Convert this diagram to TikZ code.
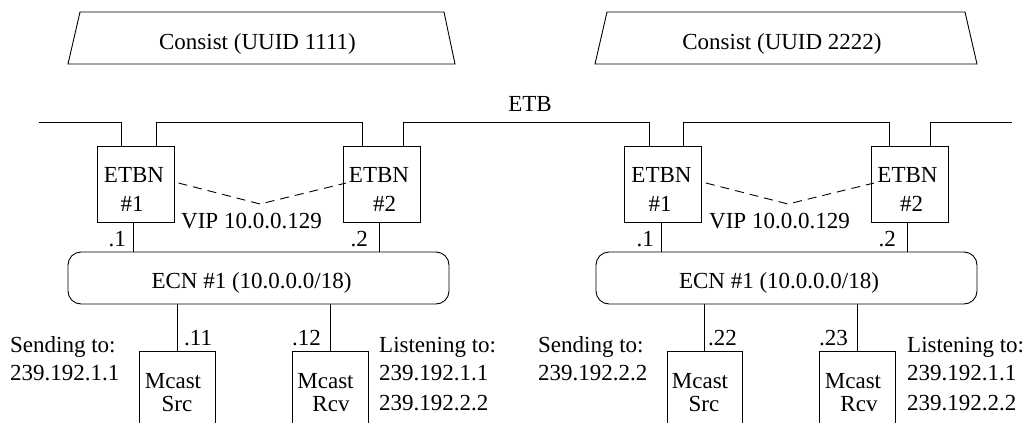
\documentclass[tikz,border=0pt]{standalone}
\usepackage{fontspec}
\setmainfont{Liberation Serif}
\begin{document}
\begin{tikzpicture}[x=1pt,y=-1pt,
  ln/.style={line width=0.9pt},
  etbn/.style={draw,line width=0.9pt,minimum width=77pt,minimum height=76pt,inner sep=0pt},
  mcast/.style={draw,line width=0.9pt,minimum width=76pt,minimum height=100pt,inner sep=0pt},
  ecn/.style={draw,line width=0.9pt,rounded corners=13pt,minimum width=381pt,minimum height=52pt,inner sep=0pt},
  txt/.style={font=\fontsize{23}{28}\selectfont,inner sep=0pt,anchor=base},
  txtl/.style={txt,anchor=base west},
  txtr/.style={txt,anchor=base east},
  vipline/.style={ln,dash pattern=on 9pt off 6pt}]
\clip (0,0) rectangle (1029,423);

% consists
\draw[ln] (80,12) -- (444,12) -- (455,64) -- (68,64) -- cycle;
\node[txt] (c1) at (257.5,49.5) {Consist (UUID 1111)};
\draw[ln] (607,12) -- (965,12) -- (977,64) -- (595,64) -- cycle;
\node[txt] (c2) at (782,49.5) {Consist (UUID 2222)};

\node[txt] (etb) at (530,111.5) {ETB};

% ETBN boxes
\node[etbn] (a1) at (135.5,184) {};
\node[etbn] (a2) at (382,184) {};
\node[etbn] (b1) at (663,184) {};
\node[etbn] (b2) at (910,184) {};
\node[txt] (a1t) at (134,182.7) {ETBN};
\node[txt] (a1n) at (132,211.7) {\#1};
\node[txt] (a2t) at (379,182.7) {ETBN};
\node[txt] (a2n) at (384.5,211.7) {\#2};
\node[txt] (b1t) at (661.5,182.7) {ETBN};
\node[txt] (b1n) at (660,211.7) {\#1};
\node[txt] (b2t) at (907.5,182.7) {ETBN};
\node[txt] (b2n) at (911.5,211.7) {\#2};

% ETB line
\coordinate (etbL) at (39,122.7);
\coordinate (etbR) at (1012,122.7);
\draw[ln] (etbL) -| ([xshift=-14.5pt]a1.north);
\draw[ln] ([xshift=20.5pt]a1.north) -- ++(0,-23.3) -| ([xshift=-20pt]a2.north);
\draw[ln] ([xshift=21pt]a2.north) -- ++(0,-23.3) -| ([xshift=-14pt]b1.north);
\draw[ln] ([xshift=20pt]b1.north) -- ++(0,-23.3) -| ([xshift=-21pt]b2.north);
\draw[ln] ([xshift=20pt]b2.north) |- (etbR);

% VIP
\coordinate (va) at (260,204);
\coordinate (vb) at (788,204);
\draw[vipline] ([xshift=4pt,yshift=1pt]a1.east) -- (va) -- ([xshift=3pt,yshift=1pt]a2.west);
\draw[vipline] ([xshift=4pt,yshift=1pt]b1.east) -- (vb) -- ([xshift=3pt,yshift=1pt]b2.west);
\node[txt] (vipa) at (251.5,228.3) {VIP 10.0.0.129};
\node[txt] (vipb) at (779.5,228.3) {VIP 10.0.0.129};

% ECN
\node[ecn] (n1) at (258.5,278) {};
\node[ecn] (n2) at (786.5,278) {};
\node[txt] (n1t) at (251.5,288.3) {ECN \#1 (10.0.0.0/18)};
\node[txt] (n2t) at (779,288.3) {ECN \#1 (10.0.0.0/18)};

\draw[ln] ([xshift=-2.5pt]a1.south) -- ([xshift=-2.5pt]a1.south |- n1.north);
\draw[ln] ([xshift=-3pt]a2.south) -- ([xshift=-3pt]a2.south |- n1.north);
\draw[ln] ([xshift=-2pt]b1.south) -- ([xshift=-2pt]b1.south |- n2.north);
\draw[ln] ([xshift=-3pt]b2.south) -- ([xshift=-3pt]b2.south |- n2.north);
\node[txtr] (p1) at (126,246) {.1};
\node[txtr] (p2) at (368,246) {.2};
\node[txtr] (p3) at (654,246) {.1};
\node[txtr] (p4) at (896,246) {.2};

% Mcast boxes
\node[mcast] (s1) at (177,401) {};
\node[mcast] (r1) at (330,401) {};
\node[mcast,minimum width=75pt] (s2) at (704.5,401) {};
\node[mcast] (r2) at (857,401) {};
\draw[ln] (s1.north) -- (s1.north |- n1.south);
\draw[ln] (r1.north) -- (r1.north |- n1.south);
\draw[ln] (s2.north) -- (s2.north |- n2.south);
\draw[ln] (r2.north) -- (r2.north |- n2.south);
\node[txt] (s1a) at (173,388) {Mcast};
\node[txt] (s1b) at (177,411) {Src};
\node[txt] (r1a) at (325.5,388) {Mcast};
\node[txt] (r1b) at (331,411) {Rcv};
\node[txt] (s2a) at (700,388) {Mcast};
\node[txt] (s2b) at (704,411) {Src};
\node[txt] (r2a) at (853,388) {Mcast};
\node[txt] (r2b) at (859,411) {Rcv};

\node[txtl] (q1) at (184,345.7) {.11};
\node[txtr] (q2) at (321,345.7) {.12};
\node[txtl] (q3) at (708,345.7) {.22};
\node[txtr] (q4) at (848,345.7) {.23};

% labels
\node[txtl] (sa1) at (10,352) {Sending to:};
\node[txtl] (sa2) at (10,380.7) {239.192.1.1};
\node[txtl] (la1) at (379,352) {Listening to:};
\node[txtl] (la2) at (379,380.7) {239.192.1.1};
\node[txtl] (la3) at (379,410) {239.192.2.2};
\node[txtl] (sb1) at (538,352) {Sending to:};
\node[txtl] (sb2) at (538,380.7) {239.192.2.2};
\node[txtl] (lb1) at (907,352) {Listening to:};
\node[txtl] (lb2) at (907,380.7) {239.192.1.1};
\node[txtl] (lb3) at (907,410) {239.192.2.2};
\end{tikzpicture}
\end{document}
